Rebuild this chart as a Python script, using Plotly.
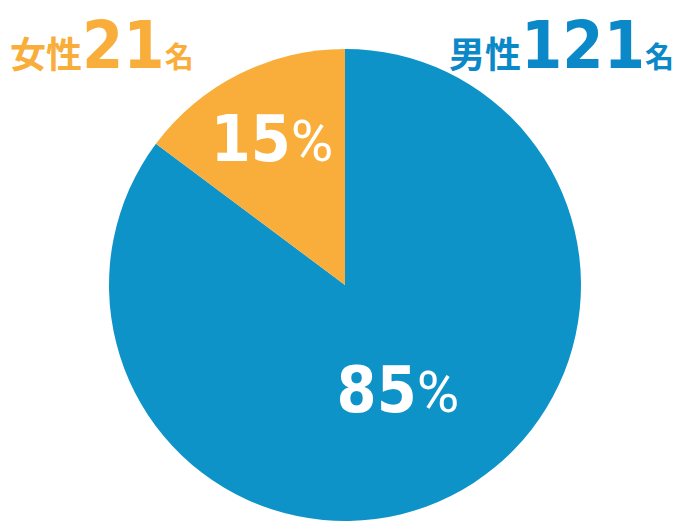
import plotly.graph_objects as go

labels = ["男性", "女性"]
counts = [121, 21]
percent_labels = ["85", "15"]
colors = ["#0E93C8", "#F9AE3B"]
title_colors = ["#0B88C8", "#F9AE3B"]

# the page body has an 8px margin, so the figure is drawn 8px in from the top left
W, H = 668, 518
cx, cy, r = 345 - 8, 285 - 8, 236

num_font = "DejaVu Sans Condensed, Roboto, sans-serif"
jp_font = "Noto Sans CJK JP, sans-serif"

texts = [
    f"<b>{p}</b><span style='font-size:58px;font-family:Roboto'>%</span>"
    for p in percent_labels
]

fig = go.Figure(go.Pie(
    labels=labels,
    values=counts,
    text=texts,
    textinfo="text",
    textposition="inside",
    insidetextorientation="horizontal",
    direction="clockwise",
    rotation=0,
    sort=False,
    marker=dict(colors=colors, line=dict(width=0)),
    textfont=dict(family=num_font, size=64, color="white"),
    domain=dict(x=[(cx - r) / W, (cx + r) / W],
                y=[(H - cy - r) / H, (H - cy + r) / H]),
    hoverinfo="skip",
    showlegend=False,
))


def title(label, n):
    return (f"<b style='font-family:{jp_font}'>{label}</b>"
            f"<b style='font-size:66px;font-family:{num_font}'>{n}</b>"
            f"<b style='font-size:29px;font-family:{jp_font}'>名</b>")


fig.add_annotation(text=title(labels[1], counts[1]), x=0, y=1.005,
                   xref="paper", yref="paper", xanchor="left", yanchor="top",
                   showarrow=False, font=dict(size=36, color=title_colors[1], family=jp_font))
fig.add_annotation(text=title(labels[0], counts[0]), x=1.0, y=1.005,
                   xref="paper", yref="paper", xanchor="right", yanchor="top",
                   showarrow=False, font=dict(size=36, color=title_colors[0], family=jp_font))

fig.update_layout(width=W, height=H, margin=dict(l=0, r=0, t=0, b=0),
                  paper_bgcolor="white", plot_bgcolor="white")
fig.write_html("out.html")
